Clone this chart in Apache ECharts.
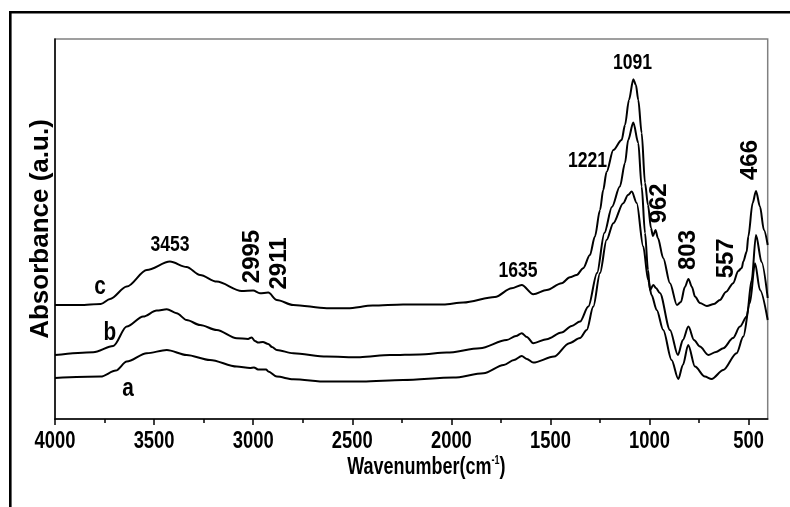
<!DOCTYPE html>
<html><head><meta charset="utf-8">
<script src="https://cdn.jsdelivr.net/npm/echarts@6/dist/echarts.min.js"></script>
<style>html,body{margin:0;padding:0;background:#fff}#chart{width:790px;height:507px}</style>
</head><body><div id="chart"></div>
<script>
// Curve c (top)
const wnC = [4000,3874,3769,3722,3638,3537,3420,3336,3268,3184,3058,3000,2966,2924,2881,2798,2629,2524,2397,2244,2041,1940,1780,1696,1645,1587,1519,1444,1402,1368,1335,1301,1276,1250,1234,1217,1183,1141,1124,1104,1082,1069,1057,1040,1023,1008,993,983,970,958,931,897,862,842,822,804,786,771,746,711,675,645,615,578,553,535,527,510,502,480,463,443,423,404];
const absC = [0.570,0.570,0.575,0.600,0.662,0.745,0.787,0.760,0.720,0.687,0.640,0.642,0.629,0.632,0.595,0.570,0.554,0.554,0.567,0.572,0.572,0.582,0.610,0.654,0.670,0.624,0.645,0.679,0.709,0.720,0.754,0.820,0.912,1.045,1.145,1.235,1.345,1.395,1.470,1.595,1.699,1.670,1.595,1.430,1.180,1.070,0.955,0.915,0.945,0.905,0.804,0.679,0.570,0.585,0.660,0.700,0.660,0.612,0.580,0.565,0.575,0.595,0.635,0.679,0.740,0.755,0.787,0.837,0.912,1.080,1.140,1.062,0.945,0.870];
// Curve b (middle)
const wnB = [4000,3807,3706,3638,3555,3487,3436,3386,3336,3268,3184,3083,3026,3008,2991,2974,2951,2924,2905,2881,2798,2629,2461,2310,2159,2024,1856,1721,1674,1645,1619,1587,1519,1444,1393,1351,1309,1265,1228,1190,1150,1124,1108,1082,1057,1040,1023,1008,998,981,968,948,897,857,832,804,776,746,704,665,628,579,544,510,485,463,435,404];
const absB = [0.320,0.334,0.365,0.462,0.512,0.542,0.549,0.529,0.495,0.470,0.445,0.404,0.400,0.408,0.390,0.382,0.385,0.375,0.360,0.345,0.329,0.312,0.309,0.320,0.323,0.332,0.354,0.395,0.415,0.429,0.410,0.379,0.399,0.432,0.465,0.487,0.562,0.730,0.930,1.060,1.162,1.280,1.395,1.482,1.380,1.162,0.930,0.745,0.645,0.670,0.655,0.630,0.445,0.320,0.395,0.462,0.395,0.362,0.320,0.335,0.354,0.405,0.462,0.512,0.695,0.920,0.785,0.605];
// Curve a (bottom)
const wnA = [4000,3769,3693,3638,3537,3436,3336,3218,3083,3016,2996,2976,2935,2924,2881,2798,2629,2448,2244,1990,1838,1736,1684,1645,1619,1587,1482,1405,1351,1317,1284,1250,1217,1183,1133,1109,1090,1065,1032,1007,990,964,931,889,855,832,805,771,721,687,628,561,527,494,468,443,404];
const absA = [0.205,0.212,0.242,0.287,0.329,0.345,0.320,0.295,0.262,0.255,0.258,0.248,0.248,0.238,0.212,0.199,0.187,0.187,0.195,0.207,0.229,0.270,0.295,0.315,0.300,0.282,0.312,0.379,0.405,0.445,0.562,0.730,0.895,0.979,1.079,1.120,1.137,1.080,0.862,0.695,0.620,0.545,0.445,0.295,0.200,0.270,0.370,0.262,0.212,0.200,0.245,0.329,0.412,0.580,0.779,0.645,0.495];

// Axis tick labels
const majorTicks = [4000,3500,3000,2500,2000,1500,1000,500];
const minorTicks = [3750,3250,2750,2250,1750,1250,750];

// Vertical peak annotations (anchored in data space)
const vPeakText = ['2995','2911','962','803','557','466'];
const vPeakWn   = [3004,2867,953,805,615,489];
const vPeakAbs  = [0.8125,0.7775,1.0785,0.845,0.8035,1.295];
// Horizontal peak annotations
const hPeakText = ['3453','1635','1221','1091'];
const hPeakWn   = [3420,1664,1313,1086];
const hPeakAbs  = [0.870,0.740,1.290,1.7785];

// Curve name labels
const curveNames = ['a','b','c'];
const curveLabelWn = [3632,3723,3773];
const curveLabelAbs = [0.150,0.4325,0.6625];

const WIDE = '"Liberation Sans",Arial,sans-serif';
const NARROW_SCALE = 0.8;

function zip(x, y){ return x.map((v,i)=>[v,y[i]]); }

const lineBase = {type:'line', showSymbol:false, smooth:0.3, smoothMonotone:'x',
  lineStyle:{color:'#000', width:2}, itemStyle:{color:'#000'}, xAxisIndex:0, yAxisIndex:0};

const borderRect = {id:'outer', type:'rect', silent:true, shape:{x:10.3, y:12.2, width:800, height:520},
  style:{fill:null, stroke:'#000', lineWidth:2.6}};

const chart = echarts.init(document.getElementById('chart'), null, {renderer:'canvas'});
chart.setOption({
  animation:false,
  backgroundColor:'#fff',
  grid:{left:55, right:22.3, top:39, bottom:88, show:true, borderColor:'#808080', borderWidth:1.5, backgroundColor:'transparent'},
  graphic:[borderRect],
  xAxis:[{
    type:'value', min:404, max:4000, inverse:true, position:'bottom',
    axisLine:{show:true, lineStyle:{color:'#000', width:1.5}},
    axisTick:{show:true, length:6, customValues:majorTicks, lineStyle:{color:'#000', width:1.5}},
    axisLabel:{show:false},
    splitLine:{show:false}
  },{
    type:'value', min:404, max:4000, inverse:true, position:'bottom', offset:0,
    axisLine:{show:false},
    axisTick:{show:true, length:4, customValues:minorTicks, lineStyle:{color:'#000', width:1.5}},
    axisLabel:{show:false}, splitLine:{show:false}
  }],
  yAxis:{
    type:'value', min:0, max:1.9,
    axisLine:{show:true, lineStyle:{color:'#000', width:1.5}},
    axisTick:{show:false}, axisLabel:{show:false}, splitLine:{show:false},
    name:'Absorbance (a.u.)', nameLocation:'middle', nameGap:1,
    nameTextStyle:{fontFamily:WIDE, fontWeight:'bold', fontSize:26, color:'#000'}
  },
  series:[
    Object.assign({}, lineBase, {name:'a', data:zip(wnA, absA)}),
    Object.assign({}, lineBase, {name:'b', data:zip(wnB, absB)}),
    Object.assign({}, lineBase, {name:'c', data:zip(wnC, absC), markPoint:{
      symbol:'circle', symbolSize:0, silent:true,
      label:{show:true, position:'inside', formatter:'{b}', color:'#000', fontWeight:'bold',
             rotate:90, fontFamily:WIDE, fontSize:24},
      data:vPeakText.map((t,i)=>({name:t, coord:[vPeakWn[i], vPeakAbs[i]]}))}})
  ]
});

// Condensed horizontal texts, placed through the chart's own scales
function px(wn, ab){ return chart.convertToPixel({xAxisIndex:0, yAxisIndex:0}, [wn, ab]); }
function narrowText(id, text, p, size){
  return {id:id, type:'text', silent:true, x:p[0], y:p[1], scaleX:NARROW_SCALE, z:10,
    style:{text:text, fill:'#000', fontFamily:WIDE, fontWeight:'bold', fontSize:size,
           align:'center', verticalAlign:'middle'}};
}
const axisY = chart.convertToPixel({yAxisIndex:0}, 0);
const gfx = [borderRect];
majorTicks.forEach((t,i)=>{
  const x = chart.convertToPixel({xAxisIndex:0}, t);
  gfx.push(narrowText('tick'+i, String(t), [x, axisY + 22.5], 23));
});
hPeakText.forEach((t,i)=>gfx.push(narrowText('hp'+i, t, px(hPeakWn[i], hPeakAbs[i]), 22)));
curveNames.forEach((t,i)=>gfx.push(narrowText('cn'+i, t, px(curveLabelWn[i], curveLabelAbs[i]), 26)));
const midX = chart.convertToPixel({xAxisIndex:0}, (4000+404)/2);
gfx.push({id:'xtitle', type:'text', silent:true, x:midX + 15, y:axisY + 48, scaleX:0.75, z:10,
  style:{text:'{t|Wavenumber(cm}{s|-1}{t|)}', align:'center', verticalAlign:'middle',
    rich:{t:{fontFamily:WIDE, fontWeight:'bold', fontSize:24, fill:'#000'},
          s:{fontFamily:WIDE, fontWeight:'bold', fontSize:12, fill:'#000', verticalAlign:'top'}}}});
chart.setOption({graphic:gfx});
</script>
</body></html>
